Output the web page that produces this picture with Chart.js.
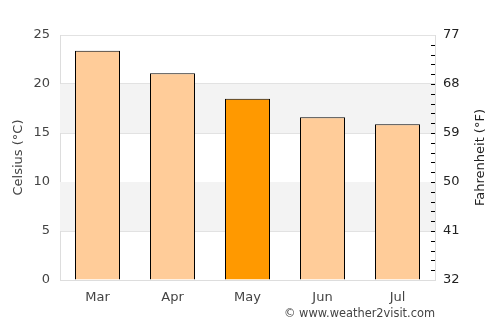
<!DOCTYPE html>
<html>
<head>
<meta charset="utf-8">
<script src="https://cdn.jsdelivr.net/npm/chart.js@4/dist/chart.umd.min.js"></script>
<style>
  html, body { margin: 0; padding: 0; background: #fff; }
  #wrap { position: relative; width: 500px; height: 325px; }
  #credit { position: absolute; right: 65px; top: 306px; font: 11.4px "DejaVu Sans", sans-serif; color: #444; }
</style>
</head>
<body>
<div id="wrap">
  <canvas id="chart" width="500" height="325"></canvas>
  <div id="credit">© www.weather2visit.com</div>
</div>
<script>
// data
var months = ['Mar', 'Apr', 'May', 'Jun', 'Jul'];
var tempC = [23.4, 21.1, 18.5, 16.6, 15.9];
var barColors = ['#ffcc99', '#ffcc99', '#ff9900', '#ffcc99', '#ffcc99'];
var bandsC = [[5, 10], [15, 20]];
var leftTitle = 'Celsius (°C)';
var rightTitle = 'Fahrenheit (°F)';

var font = { family: 'DejaVu Sans', size: 13 };

// grey bands behind the bars
var bandPlugin = {
    id: 'bands',
    beforeDatasetsDraw: function (chart) {
        var ctx = chart.ctx, area = chart.chartArea, y = chart.scales.y;
        ctx.save();
        ctx.fillStyle = '#f3f3f3';
        bandsC.forEach(function (b) {
            var top = y.getPixelForValue(b[1]);
            var bot = y.getPixelForValue(b[0]);
            ctx.fillRect(area.left, top, area.right - area.left, bot - top);
        });
        ctx.restore();
    }
};

// small ticks on the right edge (one per degree C) and both axis titles
var extras = {
    id: 'extras',
    afterDraw: function (chart) {
        var ctx = chart.ctx, area = chart.chartArea, y = chart.scales.y;
        ctx.save();
        ctx.strokeStyle = '#000';
        ctx.lineWidth = 1;
        for (var c = 1; c < 25; c++) {
            var py = Math.round(y.getPixelForValue(c)) + 0.5;
            ctx.beginPath();
            ctx.moveTo(area.right - 4, py);
            ctx.lineTo(area.right, py);
            ctx.stroke();
        }
        var mid = (area.top + area.bottom) / 2;
        ctx.font = '13px "DejaVu Sans"';
        ctx.textAlign = 'center';
        ctx.textBaseline = 'middle';
        ctx.fillStyle = '#444';
        ctx.translate(19, mid);
        ctx.rotate(-Math.PI / 2);
        ctx.fillText(leftTitle, 0, 0);
        ctx.rotate(Math.PI / 2);
        ctx.translate(481 - 19, 0);
        ctx.rotate(-Math.PI / 2);
        ctx.fillStyle = '#222';
        ctx.fillText(rightTitle, 0, 0);
        ctx.restore();
    }
};

new Chart(document.getElementById('chart'), {
    type: 'bar',
    data: {
        labels: months,
        datasets: [{
            data: tempC,
            backgroundColor: barColors,
            borderColor: '#000',
            borderWidth: 1,
            borderSkipped: 'bottom',
            barPercentage: 0.6,
            categoryPercentage: 1.0
        }]
    },
    options: {
        responsive: false,
        animation: false,
        events: [],
        layout: { padding: { top: 35 } },
        plugins: { legend: { display: false }, tooltip: { enabled: false } },
        scales: {
            x: {
                grid: { display: false },
                border: { color: '#dddddd' },
                ticks: { color: '#444', font: font, padding: 2 },
                afterFit: function (s) { s.height = 45; }
            },
            y: {
                position: 'left',
                min: 0, max: 25,
                ticks: { stepSize: 5, color: '#444', font: font, padding: 10 },
                grid: { color: '#e2e2e2', drawTicks: false },
                border: { color: '#dddddd' },
                afterFit: function (s) { s.width = 60; }
            },
            y2: {
                position: 'right',
                min: 32, max: 77,
                ticks: { stepSize: 9, color: '#222', font: font, padding: 8 },
                grid: { display: false, drawTicks: false },
                border: { display: true, color: '#dddddd' },
                afterFit: function (s) { s.width = 65; }
            }
        }
    },
    plugins: [bandPlugin, extras]
});
</script>
</body>
</html>
